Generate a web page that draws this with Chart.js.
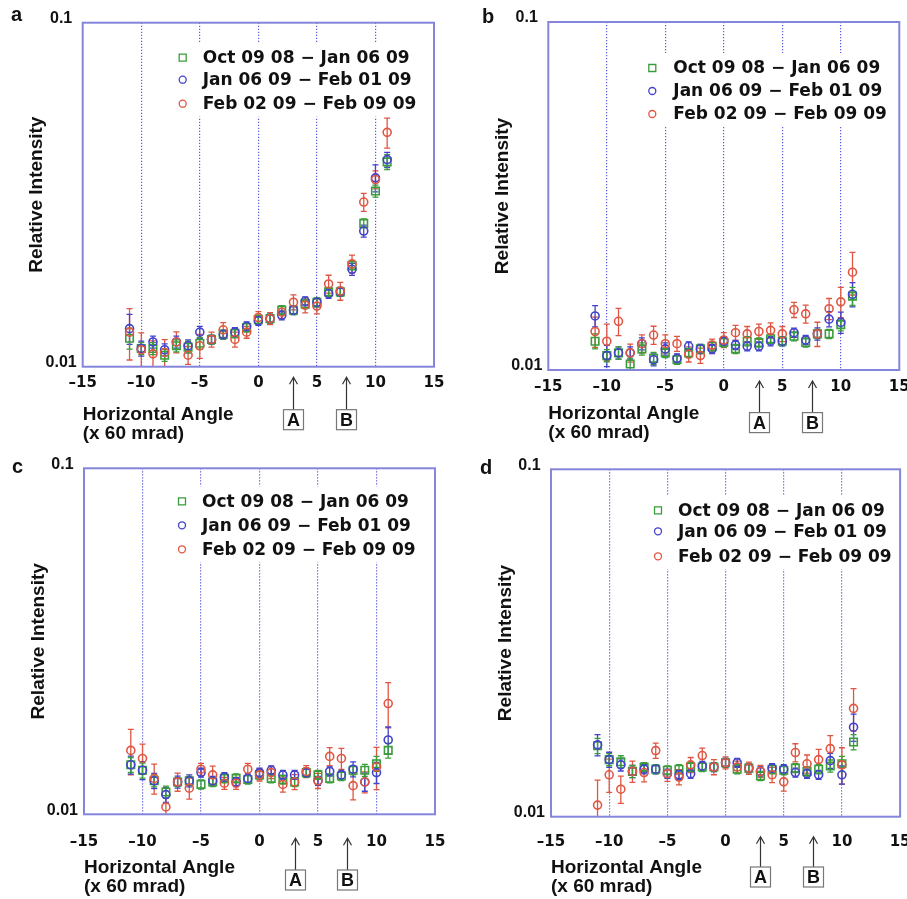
<!DOCTYPE html>
<html>
<head>
<meta charset="utf-8">
<script src="https://cdn.jsdelivr.net/npm/chart.js@4.4.0/dist/chart.umd.min.js"></script>
<style>
html, body { margin: 0; padding: 0; background: #fff; }
body { width: 907px; height: 899px; position: relative; overflow: hidden; }
.panel { position: absolute; width: 453px; height: 449px; }
.tag { position: absolute; font: bold 20px "Liberation Sans", Arial, sans-serif; color: #111; }
</style>
</head>
<body>
<div class="panel" style="left:0;top:0"><canvas id="chartA" width="453" height="449"></canvas></div>
<div class="panel" style="left:454px;top:0"><canvas id="chartB" width="453" height="449"></canvas></div>
<div class="panel" style="left:0;top:450px"><canvas id="chartC" width="453" height="449"></canvas></div>
<div class="panel" style="left:454px;top:450px"><canvas id="chartD" width="453" height="449"></canvas></div>
<div class="tag" style="left:11px;top:3px">a</div>
<div class="tag" style="left:482px;top:5px">b</div>
<div class="tag" style="left:12px;top:455px">c</div>
<div class="tag" style="left:480px;top:456px">d</div>
<script>
// horizontal angle of each measurement (x 60 mrad)
const angles = [-11, -10, -9, -8, -7, -6, -5, -4, -3, -2, -1, 0, 1, 2, 3, 4, 5, 6, 7, 8, 9, 10, 11];
const seriesNames = ['Oct 09 08 \u2212 Jan 06 09', 'Jan 06 09 \u2212 Feb 01 09', 'Feb 02 09 \u2212 Feb 09 09'];
const yTickLabels = ['0.01', '0.1'];
const markLabels = ['A', 'B'];
const markAngles = [3, 7.5];

// panel a
const greenA = [0.0121, 0.0113, 0.0113, 0.0108, 0.0115, 0.0114, 0.0117, 0.0120, 0.0124, 0.0125, 0.0130, 0.0137, 0.0138, 0.0146, 0.0146, 0.0152, 0.0154, 0.0165, 0.0165, 0.0197, 0.0261, 0.0324, 0.0394];
const blueA  = [0.0129, 0.0113, 0.0118, 0.0112, 0.0118, 0.0115, 0.0126, 0.0120, 0.0124, 0.0126, 0.0131, 0.0136, 0.0138, 0.0141, 0.0146, 0.0155, 0.0154, 0.0163, 0.0165, 0.0192, 0.0248, 0.0354, 0.0400];
const redA   = [0.0126, 0.0112, 0.0109, 0.0110, 0.0118, 0.0108, 0.0115, 0.0120, 0.0128, 0.0120, 0.0126, 0.0139, 0.0138, 0.0144, 0.0154, 0.0151, 0.0150, 0.0174, 0.0166, 0.0199, 0.0301, 0.0350, 0.0480];
const errGreenA = [7, 4, 4, 4, 4, 4, 4, 3, 3, 3, 3, 3, 3, 3, 3, 3, 3, 3, 3, 3, 3, 4, 5];
const errBlueA  = [10, 5, 4, 4, 4, 4, 4, 3, 3, 3, 3, 3, 3, 3, 3, 3, 3, 3, 3, 4, 4, 9, 5];
const errRedA   = [17, 12, 9, 9, 7, 6, 8, 5, 5, 5, 4, 4, 4, 4, 5, 5, 5, 6, 6, 6, 6, 6, 10];

// panel b
const greenB = [0.0121, 0.0110, 0.0112, 0.0104, 0.0115, 0.0108, 0.0112, 0.0107, 0.0112, 0.0115, 0.0117, 0.0120, 0.0115, 0.0121, 0.0120, 0.0123, 0.0121, 0.0125, 0.0120, 0.0127, 0.0127, 0.0135, 0.0163];
const blueB  = [0.0143, 0.0110, 0.0112, 0.0112, 0.0119, 0.0107, 0.0115, 0.0108, 0.0117, 0.0115, 0.0115, 0.0121, 0.0118, 0.0117, 0.0117, 0.0121, 0.0121, 0.0128, 0.0122, 0.0127, 0.0140, 0.0137, 0.0165];
const redB   = [0.0129, 0.0121, 0.0138, 0.0112, 0.0119, 0.0126, 0.0119, 0.0119, 0.0111, 0.0110, 0.0118, 0.0122, 0.0128, 0.0127, 0.0129, 0.0130, 0.0127, 0.0149, 0.0145, 0.0127, 0.0150, 0.0157, 0.0191];
const errGreenB = [5, 4, 4, 4, 4, 4, 3, 3, 3, 3, 3, 3, 3, 3, 3, 3, 3, 3, 3, 3, 3, 4, 6];
const errBlueB  = [7, 7, 4, 4, 4, 4, 4, 3, 3, 3, 3, 3, 3, 3, 3, 3, 3, 3, 3, 4, 5, 7, 8];
const errRedB   = [10, 12, 9, 6, 6, 6, 6, 5, 5, 5, 4, 5, 5, 5, 5, 5, 5, 5, 6, 8, 7, 10, 14];

// panel c
const greenC = [0.0139, 0.0134, 0.0125, 0.0116, 0.0124, 0.0125, 0.0122, 0.0124, 0.0127, 0.0127, 0.0126, 0.0130, 0.0127, 0.0126, 0.0124, 0.0132, 0.0130, 0.0127, 0.0129, 0.0134, 0.0134, 0.0140, 0.0153];
const blueC  = [0.0139, 0.0134, 0.0125, 0.0114, 0.0124, 0.0125, 0.0132, 0.0125, 0.0128, 0.0124, 0.0127, 0.0132, 0.0134, 0.0130, 0.0130, 0.0132, 0.0125, 0.0133, 0.0130, 0.0135, 0.0124, 0.0132, 0.0164];
const redC   = [0.0153, 0.0145, 0.0127, 0.0105, 0.0124, 0.0119, 0.0135, 0.0130, 0.0123, 0.0123, 0.0135, 0.0130, 0.0132, 0.0122, 0.0124, 0.0133, 0.0125, 0.0147, 0.0145, 0.0121, 0.0124, 0.0137, 0.0209];
const errGreenC = [5, 5, 4, 4, 3, 3, 3, 3, 3, 3, 3, 3, 3, 3, 3, 3, 3, 3, 3, 3, 4, 5, 5];
const errBlueC  = [6, 6, 5, 5, 4, 4, 3, 3, 3, 3, 3, 3, 3, 3, 3, 3, 3, 3, 3, 5, 6, 7, 9];
const errRedC   = [15, 10, 10, 6, 6, 7, 4, 6, 4, 4, 4, 4, 4, 5, 5, 4, 5, 6, 7, 9, 7, 14, 15];

// panel d
const greenD = [0.0160, 0.0146, 0.0144, 0.0135, 0.0139, 0.0137, 0.0136, 0.0137, 0.0139, 0.0139, 0.0139, 0.0143, 0.0137, 0.0138, 0.0131, 0.0137, 0.0136, 0.0138, 0.0135, 0.0137, 0.0140, 0.0142, 0.0164];
const blueD  = [0.0161, 0.0146, 0.0141, 0.0135, 0.0137, 0.0137, 0.0133, 0.0132, 0.0133, 0.0140, 0.0139, 0.0143, 0.0143, 0.0138, 0.0135, 0.0138, 0.0137, 0.0134, 0.0133, 0.0132, 0.0145, 0.0132, 0.0181];
const redD   = [0.0108, 0.0132, 0.0120, 0.0135, 0.0134, 0.0155, 0.0133, 0.0130, 0.0141, 0.0150, 0.0139, 0.0143, 0.0139, 0.0138, 0.0135, 0.0132, 0.0126, 0.0153, 0.0142, 0.0146, 0.0157, 0.0141, 0.0205];
const errGreenD = [5, 4, 4, 4, 3, 3, 3, 3, 3, 3, 3, 3, 3, 3, 3, 3, 3, 3, 3, 3, 4, 5, 5];
const errBlueD  = [7, 5, 4, 4, 3, 3, 3, 3, 3, 3, 3, 3, 3, 3, 3, 3, 3, 3, 3, 3, 5, 6, 9];
const errRedD   = [18, 11, 9, 7, 6, 5, 5, 5, 5, 5, 5, 4, 4, 4, 4, 5, 6, 6, 6, 7, 9, 12, 14];

const GREEN = '#3a9c3a';
const BLUE = '#4242cc';
const RED = '#e05642';
const FRAME = '#8585dc';
const GRID = '#5c5cdc';
const SANS = '"Liberation Sans", Arial, sans-serif';
const LEG_FONT = '"DejaVu Sans", Verdana, sans-serif';

// layout of each panel (pixels inside its canvas)
const panels = [
    { id: 'chartA', area: { l: 82.7, t: 22.7, r: 434, b: 366.7 }, tickPad: 7, arrowGap: 10.6, boxGap: 43, title2: 433.3,
      legend: { mx: 100, tx: 120, rows: [35, 57, 81] }, green: greenA, blue: blueA, red: redA, eg: errGreenA, eb: errBlueA, er: errRedA },
    { id: 'chartB', area: { l: 94.3, t: 22, r: 445.3, b: 370 }, tickPad: 8, arrowGap: 11, boxGap: 42.6, title2: 432.3,
      legend: { mx: 104, tx: 125, rows: [46, 69, 92] }, green: greenB, blue: blueB, red: redB, eg: errGreenB, eb: errBlueB, er: errRedB },
    { id: 'chartC', area: { l: 84, t: 18.3, r: 435, b: 364.3 }, tickPad: 18.8, arrowGap: 24, boxGap: 55.7, title2: 436.7,
      legend: { mx: 98, tx: 118, rows: [33, 57, 81] }, green: greenC, blue: blueC, red: redC, eg: errGreenC, eb: errBlueC, er: errRedC },
    { id: 'chartD', area: { l: 97, t: 19.3, r: 447.7, b: 366.7 }, tickPad: 16.4, arrowGap: 20, boxGap: 50.3, title2: 436.7,
      legend: { mx: 107, tx: 127, rows: [41, 62, 87] }, green: greenD, blue: blueD, red: redD, eg: errGreenD, eb: errBlueD, er: errRedD }
];

function toPoints(values) {
    return values.map((v, i) => ({ x: angles[i], y: v }));
}

function tickText(v) {
    return v < 0 ? '\u2013' + Math.abs(v) : String(v);
}

const framePlugin = {
    id: 'frame',
    afterDraw(chart) {
        const { ctx, chartArea: a } = chart;
        ctx.save();
        ctx.strokeStyle = FRAME;
        ctx.lineWidth = 2;
        ctx.strokeRect(a.left, a.top, a.right - a.left, a.bottom - a.top);
        ctx.restore();
    }
};

const errorPlugin = {
    id: 'errorBars',
    beforeDatasetsDraw(chart) {
        const { ctx, chartArea: a, scales: { y } } = chart;
        ctx.save();
        ctx.beginPath();
        ctx.rect(a.left, a.top, a.right - a.left, a.bottom - a.top);
        ctx.clip();
        chart.data.datasets.forEach((ds, di) => {
            const meta = chart.getDatasetMeta(di);
            ctx.strokeStyle = ds.borderColor;
            ctx.lineWidth = 1.3;
            meta.data.forEach((pt, i) => {
                const v = ds.data[i].y;
                const e = ds.errors[i] / 100;
                const y1 = y.getPixelForValue(v * (1 + e));
                const y2 = y.getPixelForValue(v * (1 - e));
                ctx.beginPath();
                ctx.moveTo(pt.x, y1); ctx.lineTo(pt.x, y2);
                ctx.moveTo(pt.x - 3, y1); ctx.lineTo(pt.x + 3, y1);
                ctx.moveTo(pt.x - 3, y2); ctx.lineTo(pt.x + 3, y2);
                ctx.stroke();
            });
        });
        ctx.restore();
    }
};

function legendPlugin(p) {
    return {
        id: 'keyBox',
        afterDatasetsDraw(chart) {
            const { ctx, chartArea: a } = chart;
            const lg = p.legend;
            ctx.save();
            // white box hides the dotted grid lines behind the key
            ctx.fillStyle = '#fff';
            ctx.fillRect(a.left + lg.mx - 14, a.top + lg.rows[0] - 15, a.right - a.left - lg.mx + 8, lg.rows[2] - lg.rows[0] + 28);
            const styles = [
                { color: GREEN, shape: 'rect' },
                { color: BLUE, shape: 'circle' },
                { color: RED, shape: 'circle' }
            ];
            ctx.font = 'bold 17px ' + LEG_FONT;
            ctx.textBaseline = 'middle';
            ctx.textAlign = 'left';
            styles.forEach((s, i) => {
                const x = a.left + lg.mx;
                const y = a.top + lg.rows[i];
                ctx.strokeStyle = s.color;
                ctx.lineWidth = 1.3;
                ctx.beginPath();
                if (s.shape === 'rect') ctx.rect(x - 3.5, y - 3.5, 7, 7);
                else ctx.arc(x, y, 3.5, 0, Math.PI * 2);
                ctx.stroke();
                ctx.fillStyle = '#111';
                ctx.fillText(seriesNames[i], a.left + lg.tx, y + 1);
            });
            ctx.restore();
        }
    };
}

function arrowPlugin(p) {
    return {
        id: 'marks',
        afterDraw(chart) {
            const { ctx, chartArea: a, scales: { x } } = chart;
            ctx.save();
            markAngles.forEach((ang, i) => {
                const px = Math.round(x.getPixelForValue(ang)) + 0.5;
                const tip = a.bottom + p.arrowGap;
                const boxTop = a.bottom + p.boxGap;
                ctx.strokeStyle = '#333';
                ctx.lineWidth = 1.2;
                ctx.beginPath();
                ctx.moveTo(px, boxTop);
                ctx.lineTo(px, tip);
                ctx.moveTo(px - 4, tip + 7);
                ctx.lineTo(px, tip);
                ctx.lineTo(px + 4, tip + 7);
                ctx.stroke();
                ctx.strokeStyle = '#777';
                ctx.strokeRect(px - 10, boxTop, 20, 20);
                ctx.fillStyle = '#111';
                ctx.font = 'bold 18px ' + SANS;
                ctx.textAlign = 'center';
                ctx.textBaseline = 'middle';
                ctx.fillText(markLabels[i], px, boxTop + 11);
            });
            ctx.restore();
        }
    };
}

function makeChart(p) {
    const W = 453, H = 449;
    const yW = 63;
    const xBottom = p.title2 + 9.5;
    const datasets = [
        { label: seriesNames[2], data: toPoints(p.red), errors: p.er, borderColor: RED, pointStyle: 'circle', pointRadius: 4 },
        { label: seriesNames[1], data: toPoints(p.blue), errors: p.eb, borderColor: BLUE, pointStyle: 'circle', pointRadius: 4 },
        { label: seriesNames[0], data: toPoints(p.green), errors: p.eg, borderColor: GREEN, pointStyle: 'rect', pointRadius: 5.3 }
    ];
    datasets.forEach(d => {
        d.backgroundColor = 'rgba(255,255,255,0)';
        d.pointBorderWidth = 1.6;
        d.showLine = false;
    });

    return new Chart(document.getElementById(p.id), {
        type: 'scatter',
        data: { datasets },
        options: {
            responsive: false,
            animation: false,
            events: [],
            layout: { padding: { left: p.area.l - yW, top: p.area.t, right: W - p.area.r, bottom: H - xBottom } },
            plugins: { legend: { display: false }, tooltip: { enabled: false } },
            scales: {
                x: {
                    type: 'linear',
                    min: -15, max: 15,
                    ticks: { stepSize: 5, callback: tickText, color: '#111', font: { family: LEG_FONT, size: 15, weight: 'bold' }, padding: p.tickPad, maxRotation: 0, autoSkip: false },
                    grid: {
                        drawTicks: false,
                        lineWidth: 1.2,
                        color: c => (c.tick && Math.abs(c.tick.value) === 15) ? 'rgba(0,0,0,0)' : GRID
                    },
                    border: { display: false, dash: [1.2, 1.8] },
                    title: {
                        display: true,
                        text: ['Horizontal Angle', '(x 60 mrad)'],
                        align: 'start',
                        color: '#111',
                        font: { family: SANS, size: 19, weight: 'bold', lineHeight: 1 },
                        padding: { top: 0, bottom: 0 }
                    },
                    afterFit(s) {
                        s.height = xBottom - p.area.b;
                        s.paddingLeft = 0;
                        s.paddingRight = 0;
                    }
                },
                y: {
                    type: 'logarithmic',
                    min: 0.01, max: 0.1,
                    ticks: {
                        autoSkip: false,
                        crossAlign: 'center',
                        padding: 6,
                        labelOffset: -4,
                        color: '#111',
                        font: { family: SANS, size: 16, weight: 'bold' },
                        callback: v => {
                            const t = yTickLabels.find(s => Math.abs(Number(s) / v - 1) < 1e-6);
                            return t === undefined ? '' : t;
                        }
                    },
                    grid: { display: false, drawTicks: false },
                    border: { display: false },
                    title: {
                        display: true,
                        text: 'Relative Intensity',
                        color: '#111',
                        font: { family: SANS, size: 19, weight: 'bold' },
                        padding: { top: 6, bottom: 0 }
                    },
                    afterFit(s) {
                        s.width = yW;
                        s.paddingTop = 0;
                        s.paddingBottom = 0;
                    }
                }
            }
        },
        plugins: [errorPlugin, legendPlugin(p), framePlugin, arrowPlugin(p)]
    });
}

panels.forEach(makeChart);
</script>
</body>
</html>
